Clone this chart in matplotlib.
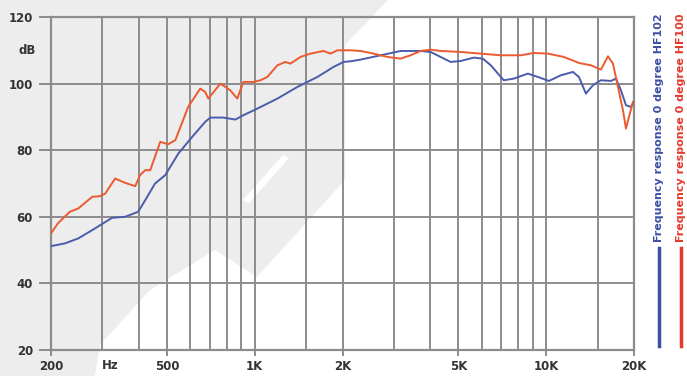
import matplotlib
matplotlib.use("Agg")
import matplotlib.pyplot as plt
from matplotlib.patches import Polygon
from matplotlib.lines import Line2D
from matplotlib.ticker import FixedLocator, NullLocator

# HF100 (red) frequency response, Hz / dB
freq_hf100 = [200, 211, 232, 248, 277, 295, 307, 332, 359, 389, 404, 421, 438, 474, 505,
              534, 591, 650, 676, 693, 762, 824, 871, 914, 989, 1046, 1105, 1196, 1274,
              1326, 1435, 1553, 1721, 1819, 1922, 2131, 2306, 2557, 2856, 3165, 3425,
              3707, 4012, 4342, 5087, 5962, 6985, 8182, 9070, 10130, 11497, 12942,
              14231, 15400, 16280, 16937, 17620, 18330, 18770, 19220, 19840]
db_hf100 = [55, 58, 61.5, 62.5, 66, 66.2, 67, 71.5, 70.2, 69.2, 72.5, 74, 74, 82.5, 81.8,
            83, 93, 98.5, 97.5, 95.5, 100, 98, 95.5, 100.5, 100.5, 101, 102, 105.5, 106.5,
            106, 108, 109, 109.8, 109, 110, 110, 109.8, 109, 108, 107.5, 108.5,
            109.8, 110.2, 109.8, 109.5, 109, 108.5, 108.5, 109.2, 109, 108, 106.2,
            105.5, 104.2, 108.2, 106, 99, 92, 86.5, 90, 94.5]

# HF102 (blue) frequency response, Hz / dB
freq_hf102 = [200, 223, 248, 277, 324, 359, 398, 421, 455, 493, 547, 610, 676, 704, 780,
              858, 914, 1021, 1196, 1401, 1641, 1863, 2016, 2131, 2306, 2703, 3165, 3707,
              4012, 4342, 4700, 5087, 5639, 6058, 6454, 6985, 7153, 7740, 8649, 9361,
              10210, 11225, 12343, 12942, 13680, 14460, 15400, 16670, 17340, 18040,
              18770, 19530, 20000]
db_hf102 = [51.2, 52, 53.5, 56, 59.7, 60, 61.5, 65, 70, 72.5, 79, 84, 88.5, 89.8, 89.8,
            89.2, 90.5, 92.5, 95.5, 99, 102, 105, 106.5, 106.7, 107.2, 108.5, 109.8, 109.8,
            109.5, 108, 106.5, 106.8, 107.8, 107.5, 105.5, 102, 101, 101.5, 103, 102,
            100.8, 102.5, 103.5, 102, 97, 99.5, 101, 100.8, 101.5, 98,
            93.5, 93, 94.5]

grid_freqs = [300, 400, 500, 600, 700, 800, 900, 1000, 1500, 2000, 3000, 4000, 5000,
              6000, 7000, 8000, 9000, 10000, 15000]
xtick_freqs = [200, 500, 1000, 2000, 5000, 10000, 20000]
xtick_labels = ["200", "500", "1K", "2K", "5K", "10K", "20K"]
ytick_vals = [20, 40, 60, 80, 100, 120]
legend_labels = ["Frequency response 0 degree HF102", "Frequency response 0 degree HF100"]

W, H = 687, 376
blue = "#4a5cab"
red = "#ec5a30"
gridc = "#8c8c8c"
txtc = "#333333"

fig = plt.figure(figsize=(W / 100, H / 100), dpi=100)
fig.patch.set_facecolor("white")


def px(pts):
    return [(x / W, 1 - y / H) for x, y in pts]


# watermark-ish gray background
fig.add_artist(Polygon(px([(0, 0), (388, 0), (345, 45), (345, 180), (257, 277), (215, 250),
                           (150, 290), (100, 345), (95, 376), (0, 376)]),
                       closed=True, transform=fig.transFigure, facecolor="#ededed",
                       edgecolor="none", zorder=-2))
fig.add_artist(Polygon(px([(243, 200), (283, 155), (289, 158), (249, 203)]),
                       closed=True, transform=fig.transFigure, facecolor="white",
                       edgecolor="none", zorder=-1))

ax = fig.add_axes([51 / W, 1 - 350 / H, 583 / W, 333 / H])
ax.set_facecolor("none")
ax.set_xscale("log")
ax.set_xlim(200, 20000)
ax.set_ylim(20, 120)

for f in grid_freqs:
    ax.axvline(f, color=gridc, lw=1.4, zorder=1)
for v in ytick_vals[1:-1]:
    ax.axhline(v, color=gridc, lw=1.4, zorder=1)

ax.plot(freq_hf102, db_hf102, color=blue, lw=1.4, zorder=3)
ax.plot(freq_hf100, db_hf100, color=red, lw=1.4, zorder=4)

for s in ax.spines.values():
    s.set_color(gridc)
    s.set_linewidth(1.6)

ax.xaxis.set_major_locator(FixedLocator(xtick_freqs))
ax.xaxis.set_minor_locator(NullLocator())
ax.set_xticklabels(xtick_labels)
ax.set_yticks(ytick_vals)
ax.tick_params(axis="y", length=9, width=1.4, color=gridc, pad=4, labelsize=8.5,
               labelcolor=txtc)
ax.tick_params(axis="x", length=4, width=1.4, color=gridc, pad=3, labelsize=8.5,
               labelcolor=txtc)
for lab in ax.get_xticklabels() + ax.get_yticklabels():
    lab.set_fontweight("bold")

ax.text(-0.04, 110, "dB", transform=ax.get_yaxis_transform(), ha="center", va="center",
        fontsize=8.5, fontweight="bold", color=txtc)
ax.text(320, -0.048, "Hz", transform=ax.get_xaxis_transform(), ha="center", va="center",
        fontsize=8.5, fontweight="bold", color=txtc)

# vertical legend on the right
for xpos, lab, c in [(659, legend_labels[0], "#3d4fa6"), (681, legend_labels[1], "#e6392a")]:
    fig.text(xpos / W, 1 - 13 / H, lab, rotation=90, ha="center", va="top",
             fontsize=8, fontweight="bold", color=c)
    fig.add_artist(Line2D([xpos / W, xpos / W], [1 - 248 / H, 1 - 346 / H],
                          color=c, lw=2.5, transform=fig.transFigure))

fig.savefig("out.png", dpi=100)
